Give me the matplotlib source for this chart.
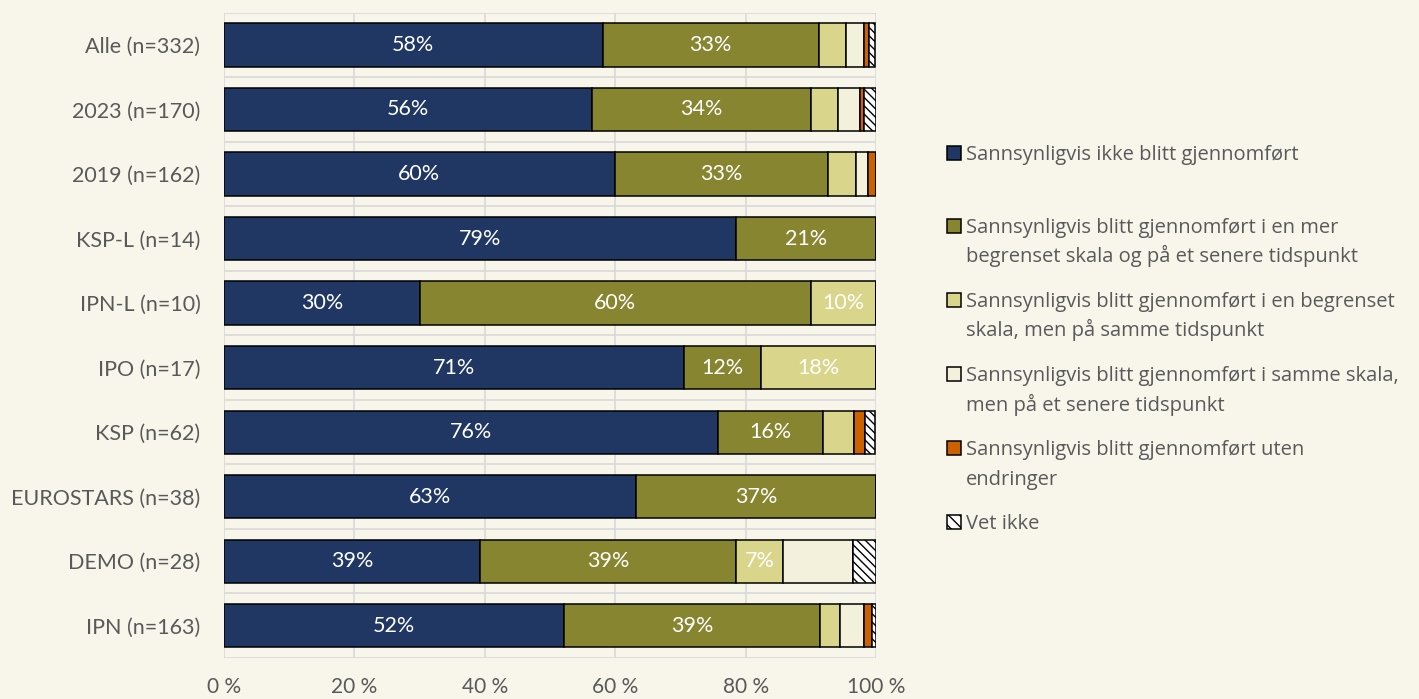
import matplotlib
matplotlib.use("Agg")
import matplotlib.pyplot as plt
from matplotlib.patches import Rectangle
import numpy as np

plt.rcParams['font.family'] = ['Lato', 'DejaVu Sans']
plt.rcParams['hatch.linewidth'] = 1.0

categories = ["Alle (n=332)", "2023 (n=170)", "2019 (n=162)", "KSP-L (n=14)",
              "IPN-L (n=10)", "IPO (n=17)", "KSP (n=62)", "EUROSTARS (n=38)",
              "DEMO (n=28)", "IPN (n=163)"]

series_names = [
    "Sannsynligvis ikke blitt gjennomført",
    "Sannsynligvis blitt gjennomført i en mer\nbegrenset skala og på et senere tidspunkt",
    "Sannsynligvis blitt gjennomført i en begrenset\nskala, men på samme tidspunkt",
    "Sannsynligvis blitt gjennomført i samme skala,\nmen på et senere tidspunkt",
    "Sannsynligvis blitt gjennomført uten\nendringer",
    "Vet ikke",
]

# Shares in percent per category (same order as categories)
ikke_gjennomfort = [58.1, 56.5, 59.9, 78.6, 30.0, 70.6, 75.8, 63.2, 39.3, 52.1]
mer_begrenset_senere = [33.1, 33.5, 32.7, 21.4, 60.0, 11.8, 16.1, 36.8, 39.3, 39.3]
begrenset_samme = [4.2, 4.1, 4.3, 0.0, 10.0, 17.6, 4.8, 0.0, 7.1, 3.1]
samme_senere = [2.7, 3.5, 1.9, 0.0, 0.0, 0.0, 0.0, 0.0, 10.7, 3.7]
uten_endringer = [0.9, 0.6, 1.2, 0.0, 0.0, 0.0, 1.6, 0.0, 0.0, 1.2]
vet_ikke = [0.9, 1.8, 0.0, 0.0, 0.0, 0.0, 1.6, 0.0, 3.6, 0.6]

x_ticks = [0, 20, 40, 60, 80, 100]
x_tick_labels = ["0 %", "20 %", "40 %", "60 %", "80 %", "100 %"]

series = [ikke_gjennomfort, mer_begrenset_senere, begrenset_samme,
          samme_senere, uten_endringer, vet_ikke]
colors = ["#203764", "#878530", "#D9D68C", "#F3F0DC", "#CC6100", "#FFFFFF"]
hatches = [None, None, None, None, None, "\\\\\\\\"]
labelled = [True, True, True, False, False, False]

W, H = 1419, 699
bg = "#F8F6EA"
text_col = "#595959"
fig = plt.figure(figsize=(W / 100, H / 100), dpi=100, facecolor=bg)
ax = fig.add_axes([224 / W, 1 - 658 / H, (876 - 224) / W, (658 - 12.7) / H])
ax.set_facecolor(bg)

n = len(categories)
y = np.arange(n)
left = np.zeros(n)
for vals, col, h, lab in zip(series, colors, hatches, labelled):
    vals = np.array(vals)
    ax.barh(y, vals, left=left, height=0.67, color=col, edgecolor="black",
            linewidth=1.1, hatch=h, zorder=3)
    if lab:
        for yi, (l, v) in enumerate(zip(left, vals)):
            if v >= 5:
                ax.text(l + v / 2, yi, f"{round(v)}%", ha="center", va="center",
                        color="white", fontsize=15.5, zorder=4)
    left += vals

ax.set_xlim(0, 100)
ax.set_ylim(n - 0.5, -0.5)
ax.set_yticks(y)
ax.set_yticklabels(categories, fontsize=15.5, color=text_col)
ax.set_xticks(x_ticks)
ax.set_xticklabels(x_tick_labels, fontsize=15, color=text_col)
ax.tick_params(axis="both", length=0)
ax.tick_params(axis="y", pad=17)
ax.tick_params(axis="x", pad=14)

grid_col = "#D9D9D9"
for xv in x_ticks:
    ax.axvline(xv, color=grid_col, lw=1.2, zorder=1)
for b in np.arange(-0.5, n, 1.0):
    ax.axhline(b, color=grid_col, lw=1.2, zorder=1)
for s in ax.spines.values():
    s.set_visible(False)

# Legend drawn by hand: square swatch plus one text line per row
entry_centers = [153, 226, 300, 374, 448, 522]
sq = 14
line_gap = 29.5
for name, col, h, yc in zip(series_names, colors, hatches, entry_centers):
    r = Rectangle((947 / W, 1 - (yc + sq / 2) / H), sq / W, sq / H,
                  transform=fig.transFigure, facecolor=col, edgecolor="black",
                  linewidth=1.1, hatch=None if h is None else "\\\\\\")
    fig.patches.append(r)
    for k, line in enumerate(name.split("\n")):
        fig.text(966 / W, 1 - (yc + 7 + k * line_gap) / H, line, ha="left",
                 va="baseline", fontsize=14.5, color=text_col,
                 family=["Open Sans", "DejaVu Sans"])

fig.savefig("out.png", dpi=100, facecolor=bg)
